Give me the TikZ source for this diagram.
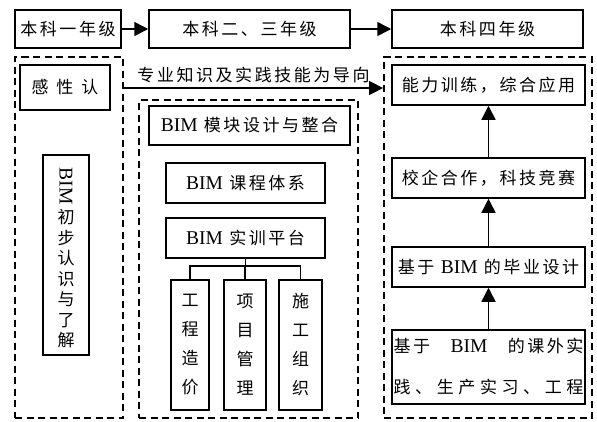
\documentclass[tikz,border=0pt]{standalone}
\usepackage{fontspec}
\setmainfont{Noto Sans CJK SC}[LetterSpace=15]
\newfontfamily\lat{Liberation Serif}
\newcommand{\bim}{{\lat\fontsize{19.5}{20}\selectfont BIM}}
\usetikzlibrary{arrows.meta}
\begin{document}
\begin{tikzpicture}[x=1pt,y=-1pt,
  font=\fontsize{17}{20}\selectfont,
  box/.style={draw,line width=1.5pt,inner sep=0pt,align=center},
  dbox/.style={draw,line width=1.8pt,dash pattern=on 7pt off 4.5pt,inner sep=0pt},
  arr/.style={line width=1.5pt,-{Triangle[length=14pt,width=14pt]}},
  ln/.style={line width=1.5pt}]
\useasboundingbox (0,0) rectangle (597,421);
% top row
\node[box,minimum width=106pt,minimum height=38pt] (y1) at (68,29) {本科一年级};
\node[box,minimum width=201pt,minimum height=38pt] (y2) at (249.5,29) {本科二、三年级};
\node[box,minimum width=191pt,minimum height=38pt] (y3) at (487.5,29) {本科四年级};
\draw[arr] (y1) -- (y2);
\draw[arr] (y2) -- (y3);
% left column
\node[dbox,minimum width=108pt,minimum height=361pt] (dl) at (69,237.5) {};
\node[box,minimum width=90pt,minimum height=45pt] (gx) at (65,87.5) {感\hspace{8pt}性\hspace{8pt}认};
\node[box,minimum width=46pt,minimum height=200pt] (cb) at (66,255) {};
\node[inner sep=0pt,rotate=-90,font=\lat\fontsize{19.5}{20}\selectfont] (cbim) at (66,186) {BIM};
\node[inner sep=0pt,align=center,font=\fontsize{17}{20.5}\selectfont] (cbt) at (66,279) {初\\步\\认\\识\\与\\了\\解};
% middle column
\node[dbox,minimum width=219pt,minimum height=318pt] (dm) at (248.5,259) {};
\node[box,minimum width=201pt,minimum height=39pt] (mk) at (249.5,125.5) {\bim{} 模块设计与整合};
\node[box,minimum width=159pt,minimum height=40pt] (kc) at (245.5,183) {\bim{} 课程体系};
\node[box,minimum width=159pt,minimum height=40pt] (sx) at (245.5,238) {\bim{} 实训平台};
\node[box,minimum width=38pt,minimum height=130pt,font=\fontsize{17}{29}\selectfont] (g1) at (190,345) {工\\程\\造\\价};
\node[box,minimum width=42pt,minimum height=130pt,font=\fontsize{17}{29}\selectfont] (g2) at (245,345) {项\\目\\管\\理};
\node[box,minimum width=43pt,minimum height=130pt,font=\fontsize{17}{29}\selectfont] (g3) at (300.5,345) {施\\工\\组\\织};
\coordinate (j) at (245.5,266);
\draw[ln] (sx.south) -- (j);
\draw[ln] (g1.north) |- (j) -| (g3.north);
\draw[ln] (g2.north) -- (g2.north |- j);
% right column
\node[dbox,minimum width=208pt,minimum height=361pt] (dr) at (488,237.5) {};
\node[box,minimum width=193pt,minimum height=40pt] (r1) at (488.5,85) {能力训练，综合应用};
\node[box,minimum width=193pt,minimum height=40pt] (r2) at (488.5,178) {校企合作，科技竞赛};
\node[box,minimum width=193pt,minimum height=40pt] (r3) at (488.5,267) {基于 \bim{} 的毕业设计};
\node[box,minimum width=193pt,minimum height=74pt,font=\fontsize{17}{41}\selectfont] (r4) at (488.5,367) {\makebox[190pt][s]{基于 \bim{} 的课外实}\\\makebox[190pt][s]{践 、 生 产 实 习 、 工 程}};
\draw[arr] (r4) -- (r3);
\draw[arr] (r3) -- (r2);
\draw[arr] (r2) -- (r1);
% guiding arrow
\draw[arr] (dl.east |- 0,88) -- node[above=4pt,inner sep=0pt] (lbl) {专业知识及实践技能为导向} (dr.west |- 0,88);
\end{tikzpicture}
\end{document}
